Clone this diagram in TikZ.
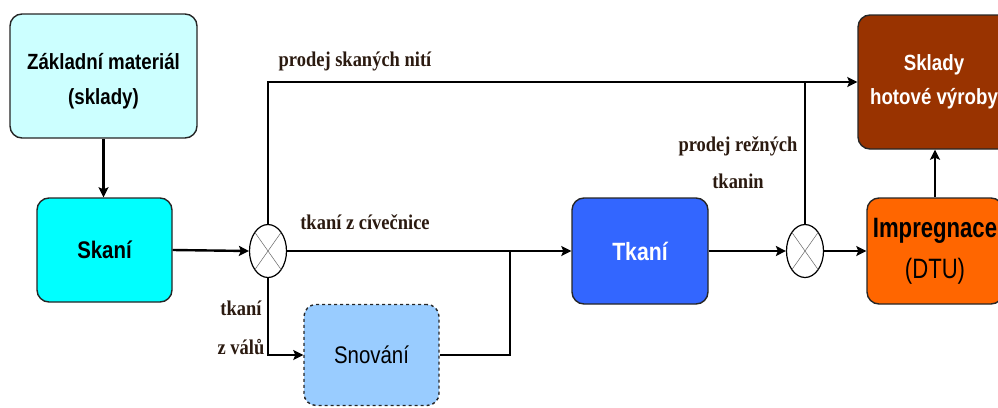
\documentclass[tikz,border=0pt]{standalone}
\usepackage{fontspec}
\setmainfont{Liberation Sans}
\newfontfamily\boxfont[FakeStretch=0.85]{Liberation Sans}
\newfontfamily\narrowfont[FakeStretch=0.79]{Liberation Sans}
\newfontfamily\labfont[FakeStretch=0.88]{Liberation Serif}
\usetikzlibrary{shapes.geometric,arrows.meta}
\definecolor{zmcol}{HTML}{CCFFFF}
\definecolor{skcol}{HTML}{00FFFF}
\definecolor{sncol}{HTML}{99CCFF}
\definecolor{tkcol}{HTML}{3366FF}
\definecolor{imcol}{HTML}{FF6600}
\definecolor{shcol}{HTML}{993300}
\definecolor{labcol}{HTML}{2B1A10}
\begin{document}
\begin{tikzpicture}[x=1pt,y=-1pt,
  box/.style={draw=black!85, line width=1.4pt, rounded corners=12pt, align=center, inner sep=0pt},
  junction/.style={draw, ellipse, line width=1.2pt, minimum width=37pt, minimum height=53pt, inner sep=0pt, fill=white},
  xline/.style={line width=0.5pt, draw=black!60},
  conn/.style={line width=2.4pt, draw=black},
  arr/.style={conn, -{Stealth[length=10pt,width=10pt,inset=2pt]}},
  lab/.style={text=labcol, align=center, inner sep=0pt}
]
\useasboundingbox (0,0) rectangle (998,407);

\node[box, fill=zmcol, minimum width=187pt, minimum height=124pt, text height=62pt,
      font=\boxfont\bfseries\fontsize{22}{35}\selectfont] (zm) at (103.5,76) {Základní materiál\\(sklady)};
\node[box, fill=skcol, minimum width=135pt, minimum height=104pt,
      font=\boxfont\bfseries\fontsize{24}{30}\selectfont] (sk) at (104.5,250) {Skaní};
\node[box, fill=sncol, dashed, minimum width=135pt, minimum height=101pt,
      font=\boxfont\fontsize{24}{30}\selectfont] (sn) at (371.5,355) {Snování};
\node[box, fill=tkcol, text=white, minimum width=136pt, minimum height=106pt,
      font=\boxfont\bfseries\fontsize{25}{30}\selectfont] (tk) at (640,251) {Tkaní};
\node[box, fill=imcol, minimum width=136pt, minimum height=106pt,
      font=\narrowfont\fontsize{28}{41}\selectfont] (im) at (935,251) {\bfseries Impregnace\\(DTU)};
\node[box, fill=shcol, text=white, minimum width=152pt, minimum height=134pt,
      font=\boxfont\bfseries\fontsize{22}{34}\selectfont] (sh) at (934,82) {Sklady\\hotové výroby};

\node[junction] (c1) at (268,251) {};
\node[junction] (c2) at (805,251) {};
\draw[xline] (c1.north west) -- (c1.south east) (c1.north east) -- (c1.south west);
\draw[xline] (c2.north west) -- (c2.south east) (c2.north east) -- (c2.south west);

\coordinate (jn) at (510,251);

\draw[arr] (zm.south) -- (zm.south |- sk.north);
\draw[arr] (sk.east) -- (c1.west);
\draw[arr] (c1.north) |- (sh.west);
\draw[conn] (c2.north) -- (c2.north |- sh.west);
\draw[arr] (c1.east) -- (tk.west);
\draw[arr] (c1.south) |- (sn.west);
\draw[conn] (sn.east) -| (jn);
\draw[arr] (tk.east) -- (c2.west);
\draw[arr] (c2.east) -- (im.west);
\draw[arr] (im.north) -- (im.north |- sh.south);

\node[lab, font=\labfont\bfseries\fontsize{21}{37}\selectfont] (l1) at (355,61) {prodej skaných nití};
\node[lab, font=\labfont\bfseries\fontsize{21}{37}\selectfont] (l2) at (365,222) {tkaní z cívečnice};
\node[lab, font=\labfont\bfseries\fontsize{21}{39}\selectfont] (l3) at (241,328) {tkaní\\z válů};
\node[lab, font=\labfont\bfseries\fontsize{21}{37}\selectfont] (l4) at (738,163) {prodej režných\\tkanin};
\end{tikzpicture}
\end{document}
